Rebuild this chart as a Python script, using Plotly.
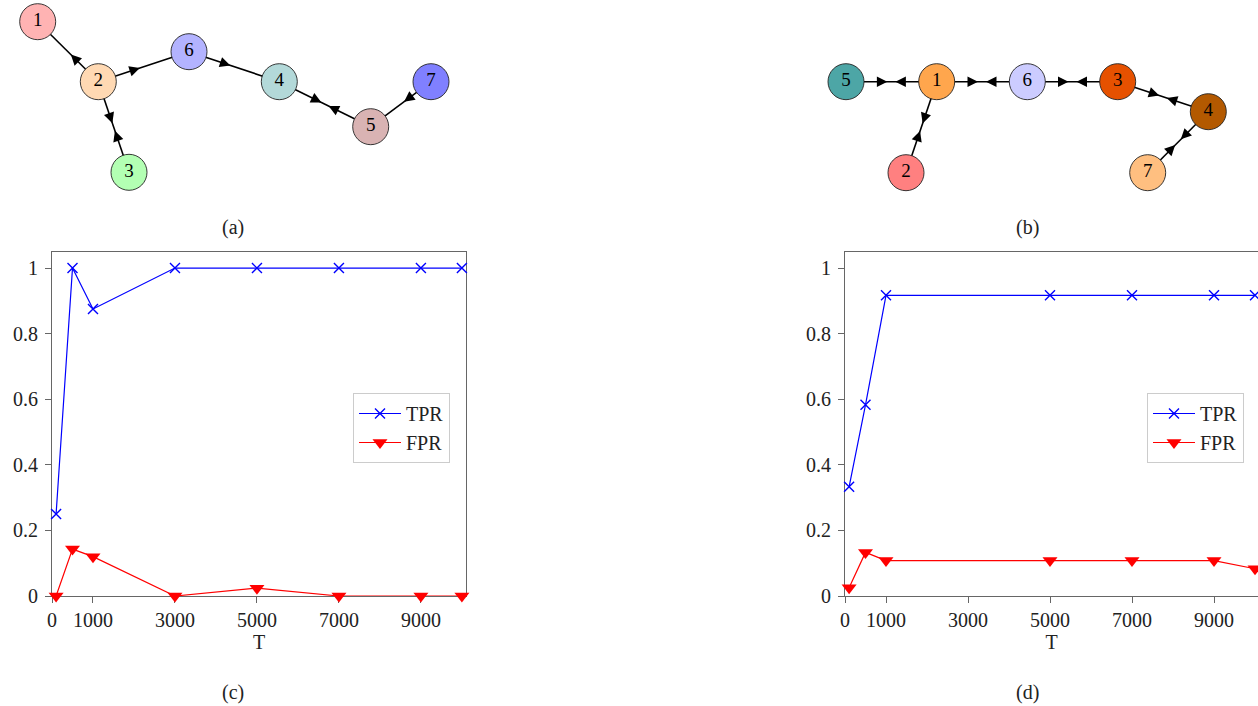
import math
import plotly.graph_objects as go

W, H = 1258, 706
FONT = "Liberation Serif"

# ---------------- data ----------------
T_c = [100, 500, 1000, 3000, 5000, 7000, 9000, 10000]
tpr_c = [0.25, 1.0, 0.875, 1.0, 1.0, 1.0, 1.0, 1.0]
fpr_c = [0.0, 0.143, 0.12, 0.0, 0.024, 0.0, 0.0, 0.0]

T_d = [100, 500, 1000, 5000, 7000, 9000, 10000]
tpr_d = [0.333, 0.583, 0.917, 0.917, 0.917, 0.917, 0.917]
fpr_d = [0.025, 0.133, 0.108, 0.108, 0.108, 0.108, 0.083]

x_ticks = [0, 1000, 3000, 5000, 7000, 9000]
y_ticks = [0, 0.2, 0.4, 0.6, 0.8, 1.0]
y_tick_text = ["0", "0.2", "0.4", "0.6", "0.8", "1"]

# graph (a): node layout coordinates
nodes_a = ["1", "2", "3", "4", "5", "6", "7"]
nx_a = [37.7, 98.3, 129.0, 279.3, 370.7, 189.0, 431.0]
ny_a = [21.7, 81.7, 172.3, 81.7, 126.7, 51.7, 81.7]
ncol_a = ["#ffb3b3", "#ffd9b3", "#b3ffb3", "#b3d9d9", "#d9b3b3", "#b3b3ff", "#8080ff"]
arrows_a = [("2", "1"), ("2", "6"), ("2", "3"), ("3", "2"), ("6", "4"),
            ("4", "5"), ("5", "4"), ("7", "5")]

# graph (b)
nodes_b = ["1", "2", "3", "4", "5", "6", "7"]
nx_b = [936.7, 906.0, 1117.7, 1208.3, 846.0, 1027.3, 1147.7]
ny_b = [81.7, 172.7, 81.7, 111.7, 81.7, 81.7, 172.7]
ncol_b = ["#ffa64d", "#ff8080", "#e65100", "#b35900", "#4da6a6", "#ccccff", "#ffbf80"]
arrows_b = [("5", "1"), ("1", "5"), ("1", "6"), ("6", "1"), ("6", "3"), ("3", "6"),
            ("3", "4"), ("4", "3"), ("1", "2"), ("2", "1"), ("4", "7"), ("7", "4")]

fig = go.Figure()
annotations = []

# ---------------- graphs ----------------
def add_graph(names, xs, ys, cols, arrows):
    pos = {n: (x, y) for n, x, y in zip(names, xs, ys)}
    seen = set()
    ex, ey = [], []
    for s, t in arrows:
        key = tuple(sorted((s, t)))
        if key in seen:
            continue
        seen.add(key)
        ex += [pos[s][0], pos[t][0], None]
        ey += [pos[s][1], pos[t][1], None]
    fig.add_trace(go.Scatter(x=ex, y=ey, mode="lines", xaxis="x3", yaxis="y3",
                             line=dict(color="black", width=1.6),
                             showlegend=False, hoverinfo="skip"))
    for s, t in arrows:
        (x0, y0), (x1, y1) = pos[s], pos[t]
        mx, my = (x0 + x1) / 2, (y0 + y1) / 2
        L = math.hypot(x1 - x0, y1 - y0)
        ux, uy = (x1 - x0) / L, (y1 - y0) / L
        tipx, tipy = mx - 4.0 * ux, my - 4.0 * uy
        annotations.append(dict(x=tipx, y=tipy, ax=tipx - 6 * ux, ay=tipy - 6 * uy,
                                xref="x3", yref="y3", axref="x3", ayref="y3",
                                showarrow=True, arrowhead=2, arrowsize=1.4,
                                arrowwidth=1.5, arrowcolor="black", text=""))
    fig.add_trace(go.Scatter(x=xs, y=ys, mode="markers+text", text=names,
                             xaxis="x3", yaxis="y3",
                             textposition="middle center",
                             textfont=dict(family=FONT, size=19, color="black"),
                             marker=dict(size=36, color=cols,
                                         line=dict(color="#222", width=0.9)),
                             showlegend=False, hoverinfo="skip"))

add_graph(nodes_a, nx_a, ny_a, ncol_a, arrows_a)
add_graph(nodes_b, nx_b, ny_b, ncol_b, arrows_b)

# ---------------- line charts ----------------
def add_lines(xs, tpr, fpr, xa, ya, leg):
    fig.add_trace(go.Scatter(x=xs, y=tpr, name="TPR", mode="lines+markers",
                             xaxis=xa, yaxis=ya, legend=leg, cliponaxis=False,
                             line=dict(color="blue", width=1.2),
                             marker=dict(symbol="x-thin", size=10,
                                         line=dict(color="blue", width=1.4))))
    fig.add_trace(go.Scatter(x=xs, y=fpr, name="FPR", mode="lines+markers",
                             xaxis=xa, yaxis=ya, legend=leg, cliponaxis=False,
                             line=dict(color="red", width=1.2),
                             marker=dict(symbol="triangle-down", size=13, color="red")))

add_lines(T_c, tpr_c, fpr_c, "x", "y", "legend")
add_lines(T_d, tpr_d, fpr_d, "x2", "y2", "legend2")

ydom = [1 - 596 / H, 1 - 252 / H]
axis_common = dict(showline=True, linecolor="#666", linewidth=1.2, ticks="outside",
                   ticklen=6, tickcolor="#666", tickwidth=1.2, showgrid=False,
                   zeroline=False, automargin=False, layer="below traces",
                   tickfont=dict(family=FONT, size=20, color="#222"))

legend_common = dict(y=1 - 393 / H, xanchor="left", yanchor="top",
                     bordercolor="#cccccc", borderwidth=1, bgcolor="white",
                     font=dict(family=FONT, size=20, color="#222"),
                     tracegroupgap=0, itemwidth=42)

fig.update_layout(
    width=W, height=H, margin=dict(l=0, r=0, t=0, b=0, pad=0, autoexpand=False),
    paper_bgcolor="white", plot_bgcolor="white",
    font=dict(family=FONT, size=20, color="#222"),
    xaxis=dict(domain=[52 / W, 466 / W], range=[0, 10100], anchor="y", mirror=True,
               tickvals=x_ticks, title=dict(text="T", standoff=2,
                                            font=dict(family=FONT, size=20)),
               **axis_common),
    yaxis=dict(domain=ydom, range=[0, 1.049], anchor="x", mirror=True,
               tickvals=y_ticks, ticktext=y_tick_text, ticklabelstandoff=3,
               **axis_common),
    xaxis2=dict(domain=[845 / W, 1.0], range=[0, 10073], anchor="y2", mirror=True,
                tickvals=x_ticks, title=dict(text="T", standoff=2,
                                             font=dict(family=FONT, size=20)),
                **axis_common),
    yaxis2=dict(domain=ydom, range=[0, 1.049], anchor="x2", mirror=False,
                tickvals=y_ticks, ticktext=y_tick_text, ticklabelstandoff=3,
                **axis_common),
    xaxis3=dict(domain=[0, 1], range=[0, W], visible=False, anchor="y3",
                fixedrange=True),
    yaxis3=dict(domain=[1 - 200 / H, 1], range=[200, 0], visible=False, anchor="x3",
                fixedrange=True),
    legend=dict(x=353 / W, **legend_common),
    legend2=dict(x=1147 / W, **legend_common),
)

for label, cx, cy in [("(a)", 233, 228), ("(b)", 1027, 228),
                      ("(c)", 233, 692), ("(d)", 1027, 692)]:
    annotations.append(dict(text=label, x=cx / W, y=1 - cy / H, xref="paper",
                            yref="paper", showarrow=False, xanchor="center",
                            yanchor="middle", font=dict(family=FONT, size=20,
                                                        color="#222")))

fig.update_layout(annotations=annotations)
fig.write_html("out.html", config={"displayModeBar": False},
               post_script="document.body.style.margin='0';"
                           "document.body.style.overflow='hidden';")
